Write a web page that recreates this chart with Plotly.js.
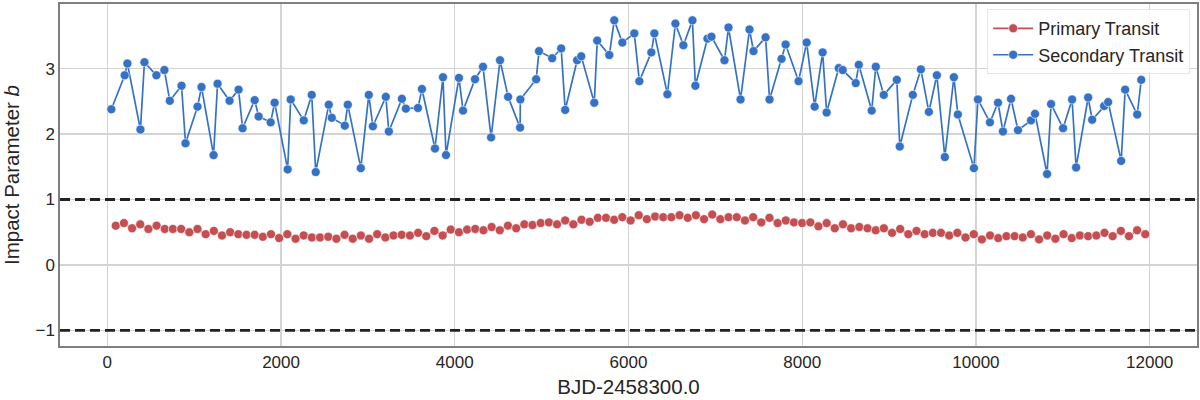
<!DOCTYPE html>
<html>
<head>
<meta charset="utf-8">
<script src="https://cdn.plot.ly/plotly-3.0.1.min.js"></script>
<style>html,body{margin:0;padding:0;background:#fff;}#chart{width:1200px;height:400px;}</style>
</head>
<body>
<div id="chart"></div>
<script>
const primaryX = [97,191,285,379,473,567,661,755,850,944,1038,1132,1226,1320,1414,1508,1602,1696,1790,1884,1978,2072,2167,2261,2355,2449,2543,2637,2731,2825,2919,3013,3107,3201,3295,3389,3484,3578,3672,3766,3860,3954,4048,4142,4236,4330,4424,4518,4612,4707,4801,4895,4989,5083,5177,5271,5365,5459,5553,5647,5741,5835,5929,6024,6118,6212,6306,6400,6494,6588,6682,6776,6870,6964,7058,7152,7246,7341,7435,7529,7623,7717,7811,7905,7999,8093,8187,8281,8375,8469,8563,8658,8752,8846,8940,9034,9128,9222,9316,9410,9504,9598,9692,9786,9880,9975,10069,10163,10257,10351,10445,10539,10633,10727,10821,10915,11009,11103,11197,11292,11386,11480,11574,11668,11762,11856,11950];
const primaryB = [0.60,0.64,0.56,0.62,0.55,0.60,0.55,0.55,0.55,0.50,0.55,0.47,0.52,0.45,0.50,0.47,0.46,0.46,0.43,0.47,0.41,0.47,0.40,0.45,0.42,0.42,0.43,0.40,0.46,0.40,
0.45,0.40,0.47,0.42,0.45,0.46,0.45,0.49,0.44,0.52,0.45,0.54,0.50,0.54,0.55,0.53,0.58,0.53,0.60,0.56,0.62,0.61,0.64,0.65,0.62,0.68,0.62,0.69,0.66,0.72,0.72,0.69,0.73,0.68,0.76,
0.70,0.74,0.73,0.73,0.76,0.72,0.76,0.70,0.77,0.70,0.73,0.73,0.68,0.73,0.65,0.72,0.64,0.68,0.65,0.64,0.65,0.59,0.64,0.56,0.62,0.56,0.58,0.56,0.53,0.56,0.49,0.55,0.47,0.52,
0.47,0.49,0.49,0.45,0.49,0.42,0.47,0.39,0.45,0.41,0.44,0.44,0.42,0.47,0.39,0.45,0.40,0.47,0.41,0.45,0.44,0.45,0.49,0.44,0.52,0.44,0.53,0.47];
const secondaryX = [46,200,231,381,427,565,657,719,854,900,1038,1084,1223,1269,1407,1511,1557,1696,1742,1880,1926,2076,2111,2261,2353,2399,2549,2584,2734,2768,2918,3010,3057,3206,3241,3391,3437,3576,3622,3772,3864,3899,4048,4095,4233,4325,4418,4521,4614,4752,4755,4937,4970,5121,5225,5271,5409,5456,5606,5640,5779,5836,5929,6067,6125,6263,6298,6448,6540,6632,6736,6770,6909,6955,7105,7151,7290,7393,7439,7578,7624,7762,7809,7958,8051,8143,8235,8281,8420,8466,8616,8651,8800,8847,8939,9089,9123,9273,9366,9458,9550,9642,9746,9792,9977,10023,10161,10254,10311,10404,10484,10634,10680,10819,10865,11003,11107,11153,11292,11338,11476,11522,11672,11718,11857,11903];
const secondaryB = [2.38,2.90,3.08,2.07,3.10,2.90,2.98,2.51,2.74,1.86,2.42,2.72,1.68,2.77,2.51,2.68,2.09,2.52,2.27,2.18,2.48,1.46,2.53,2.21,2.60,1.42,2.45,2.25,2.13,2.45,1.48,2.60,2.12,2.57,2.04,2.54,2.39,2.40,2.69,1.78,2.87,1.68,2.86,2.36,2.84,3.03,1.95,3.13,2.57,2.10,2.53,2.84,3.27,3.16,3.31,2.37,3.13,3.19,2.48,3.43,3.21,3.74,3.40,3.54,2.81,3.25,3.54,2.61,3.69,3.36,3.74,2.74,3.46,3.49,3.13,3.63,2.53,3.60,3.27,3.48,2.53,3.15,3.37,2.81,3.40,2.42,3.25,2.33,3.01,2.98,2.78,3.06,2.36,3.03,2.60,2.83,1.81,2.60,2.99,2.34,2.90,1.65,2.87,2.30,1.48,2.53,2.18,2.48,2.04,2.54,2.06,2.21,2.31,1.39,2.46,2.09,2.53,1.49,2.56,2.22,2.43,2.49,1.59,2.68,2.30,2.83];
const boundaryLevels = [1, -1];
const seriesNames = ['Primary Transit', 'Secondary Transit'];
const xTicks = [0, 2000, 4000, 6000, 8000, 10000, 12000];
const yTicks = [-1, 0, 1, 2, 3];
const yTickText = ['\u22121', '0', '1', '2', '3'];

const red = '#c44e52', blue = '#3572c6';
const traces = [
  {x: primaryX, y: primaryB, name: seriesNames[0], mode: 'lines+markers', type: 'scatter',
   line: {color: red, width: 1.7}, marker: {color: red, size: 9, line: {color: '#ffffff', width: 0.6}}},
  {x: secondaryX, y: secondaryB, name: seriesNames[1], mode: 'lines+markers', type: 'scatter',
   line: {color: blue, width: 1.7}, marker: {color: blue, size: 9, line: {color: '#ffffff', width: 0.6}}}
];
const shapes = boundaryLevels.map(v => ({type: 'line', xref: 'paper', x0: 0, x1: 1, yref: 'y', y0: v, y1: v,
  line: {color: '#222222', width: 2.8, dash: '10px,5px'}, layer: 'above'}));

const layout = {
  width: 1200, height: 400,
  margin: {l: 60, r: 3, t: 4, b: 54},
  paper_bgcolor: '#ffffff', plot_bgcolor: '#ffffff',
  font: {family: 'Liberation Sans, Arial, sans-serif', color: '#262626', size: 17},
  showlegend: true,
  legend: {x: 0.994, y: 0.985, xanchor: 'right', yanchor: 'top', bgcolor: 'rgba(255,255,255,0.85)',
    bordercolor: '#e6e6e6', borderwidth: 1, font: {size: 18, color: '#262626'}, itemwidth: 40, tracegroupgap: 0},
  xaxis: {range: [-545, 12545], tickvals: xTicks, ticktext: xTicks.map(String), showgrid: true, gridcolor: '#d4d4d4', gridwidth: 1.3,
    zeroline: false, showline: true, linecolor: '#7f7f7f', linewidth: 1.6, mirror: true, ticks: '', ticklen: 0,
    tickfont: {size: 17}, title: {text: 'BJD-2458300.0', font: {size: 20.5}, standoff: 8}},
  yaxis: {range: [-1.24, 3.99], tickvals: yTicks, ticktext: yTickText, showgrid: true, gridcolor: '#d4d4d4', gridwidth: 1.3,
    zeroline: false, showline: true, linecolor: '#7f7f7f', linewidth: 1.6, mirror: true, ticks: '', ticklen: 0,
    tickfont: {size: 17}, title: {text: 'Impact Parameter <i>b</i>', font: {size: 20.5}, standoff: 10}},
  shapes: shapes
};
Plotly.newPlot('chart', traces, layout, {displayModeBar: false, staticPlot: true});
</script>
</body>
</html>
